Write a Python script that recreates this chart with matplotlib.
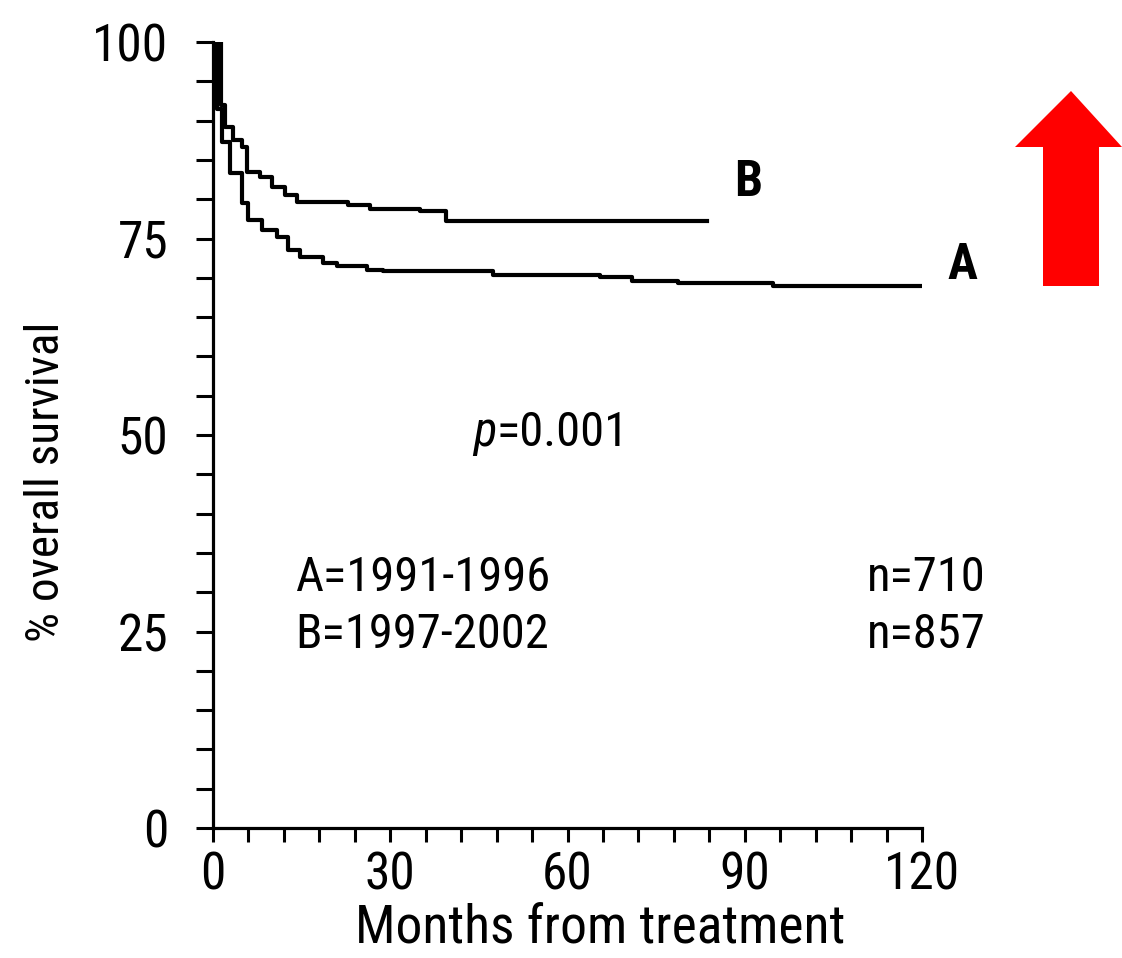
import matplotlib
matplotlib.use("Agg")
import matplotlib.pyplot as plt
from matplotlib.patches import Polygon
from matplotlib.ticker import MultipleLocator

plt.rcParams['font.family'] = ['Roboto Condensed', 'Archivo Narrow', 'PT Sans Narrow', 'DejaVu Sans']
plt.rcParams['font.stretch'] = 'condensed'

# Kaplan-Meier step data (months, % overall survival)
a_months = [0, 0.6, 1.6, 2.9, 4.9, 5.9, 8.3, 10.8, 12.7, 14.7, 18.6, 21.0, 26.0, 28.8, 47.4, 65.5, 71.0, 78.7, 94.8, 120.0]
a_surv = [100, 91.5, 87.3, 83.3, 79.5, 77.4, 76.1, 75.2, 73.5, 72.6, 71.9, 71.5, 71.0, 70.9, 70.4, 70.1, 69.6, 69.3, 69.0, 69.0]
b_months = [0, 1.4, 2.0, 3.4, 4.9, 5.8, 8.0, 10.0, 12.2, 14.2, 22.8, 26.6, 35.0, 39.5, 83.6]
b_surv = [100, 92, 89.2, 87.5, 86.6, 83.4, 82.8, 81.5, 80.5, 79.7, 79.3, 78.7, 78.5, 77.2, 77.2]

x_ticks = [0, 30, 60, 90, 120]
y_ticks = [0, 25, 50, 75, 100]

W, H = 1122, 958
fig = plt.figure(figsize=(W / 100, H / 100), dpi=100)
ax = fig.add_axes([213 / W, 1 - 828 / H, (922 - 213) / W, (828 - 42) / H])

ax.step(a_months, a_surv, where='post', color='black', lw=3.0)
ax.step(b_months, b_surv, where='post', color='black', lw=3.0)

ax.set_xlim(0, 120)
ax.set_ylim(0, 100)
ax.spines['top'].set_visible(False)
ax.spines['right'].set_visible(False)
for s in ('left', 'bottom'):
    ax.spines[s].set_linewidth(2.3)

ax.set_xticks(x_ticks)
ax.set_yticks(y_ticks)
ax.xaxis.set_minor_locator(MultipleLocator(6))
ax.yaxis.set_minor_locator(MultipleLocator(5))
ax.tick_params(axis='x', which='both', direction='out', length=10, width=2.2, labelsize=37, pad=6)
ax.tick_params(axis='y', which='both', direction='out', length=12, width=2.2, labelsize=37, pad=20)

ax.set_xlabel('Months from treatment', fontsize=38.5)
ax.xaxis.set_label_coords(0.546, -0.096)
ax.set_ylabel('% overall survival', fontsize=34)
ax.yaxis.set_label_coords(-0.205, 0.441)

ax.text(90.6, 82.1, 'B', fontsize=36, fontweight='bold', ha='center', va='center')
ax.text(126.8, 71.6, 'A', fontsize=36, fontweight='bold', ha='center', va='center', clip_on=False)
tp = ax.text(48.0, 50.4, 'p', fontsize=35, style='italic', ha='right', va='center')
ax.annotate('=0.001', xy=(1, 0), xycoords=tp, fontsize=35, ha='left', va='bottom')
ax.text(13.9, 31.8, 'A=1991-1996', fontsize=35, ha='left', va='center')
ax.text(13.9, 24.6, 'B=1997-2002', fontsize=35, ha='left', va='center')
ax.text(130.7, 31.8, 'n=710', fontsize=35, ha='right', va='center', clip_on=False)
ax.text(130.7, 24.6, 'n=857', fontsize=35, ha='right', va='center', clip_on=False)

arrow_px = [(1071, 91), (1122, 147), (1099, 147), (1099, 286), (1043, 286), (1043, 147), (1015, 147)]
arrow = Polygon([(x / W, 1 - y / H) for x, y in arrow_px], closed=True,
                facecolor='#ff0000', edgecolor='none', transform=fig.transFigure)
fig.patches.append(arrow)

fig.savefig('out.png', dpi=100)
